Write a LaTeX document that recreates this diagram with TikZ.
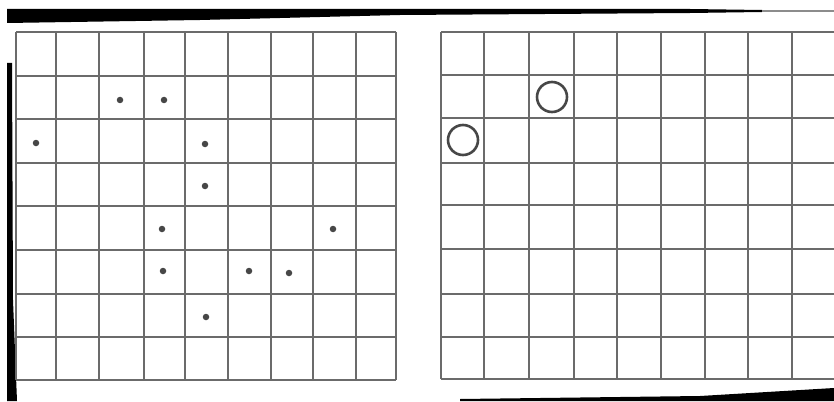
\documentclass[tikz,border=0pt]{standalone}
\begin{document}
\begin{tikzpicture}[x=1pt,y=-1pt,
  gridline/.style={draw=black!58,line width=1.8pt},
  dotmark/.style={circle,fill=black!72,inner sep=0pt,minimum size=6.5pt},
  ringmark/.style={circle,draw=black!72,line width=2.6pt,inner sep=0pt,minimum size=30pt},
  scanedge/.style={fill=black}]
\useasboundingbox (0,0) rectangle (834,401);
\fill[white] (0,0) rectangle (834,401);
% scan edges
\fill[scanedge] (7,9) -- (690,9) -- (762,10) -- (762,12) -- (690,13) -- (400,15) -- (200,20) -- (7,23) -- cycle;
\draw[black!45,line width=1.5pt] (762,11) -- (834,11);
\fill[scanedge] (7,63) -- (12,63) -- (13,300) -- (17,401) -- (7,401) -- cycle;
\fill[scanedge] (460,401) -- (460,399) -- (700,396) -- (834,388) -- (834,401) -- cycle;
% left grid
\foreach \x in {16,56,99,144,185,228,271,313,356,396}
  \draw[gridline] (\x,32) -- (\x,380);
\foreach \y in {32,76,119,163,206,250,294,337,380}
  \draw[gridline] (16,\y) -- (396,\y);
% right grid
\foreach \x in {441,484,529,574,617,661,705,748,792,836}
  \draw[gridline] (\x,32) -- (\x,379);
\foreach \y in {32,75,118,163,205,249,294,337,379}
  \draw[gridline] (441,\y) -- (836,\y);
% dots
\node[dotmark] (d1) at (120,100) {};
\node[dotmark] (d2) at (164,100) {};
\node[dotmark] (d3) at (36,143) {};
\node[dotmark] (d4) at (205,144) {};
\node[dotmark] (d5) at (205,186) {};
\node[dotmark] (d6) at (162,229) {};
\node[dotmark] (d7) at (333,229) {};
\node[dotmark] (d8) at (163,271) {};
\node[dotmark] (d9) at (249,271) {};
\node[dotmark] (d10) at (289,273) {};
\node[dotmark] (d11) at (206,317) {};
% rings
\node[ringmark] (r1) at (552,97) {};
\node[ringmark] (r2) at (463,140) {};
\end{tikzpicture}
\end{document}
